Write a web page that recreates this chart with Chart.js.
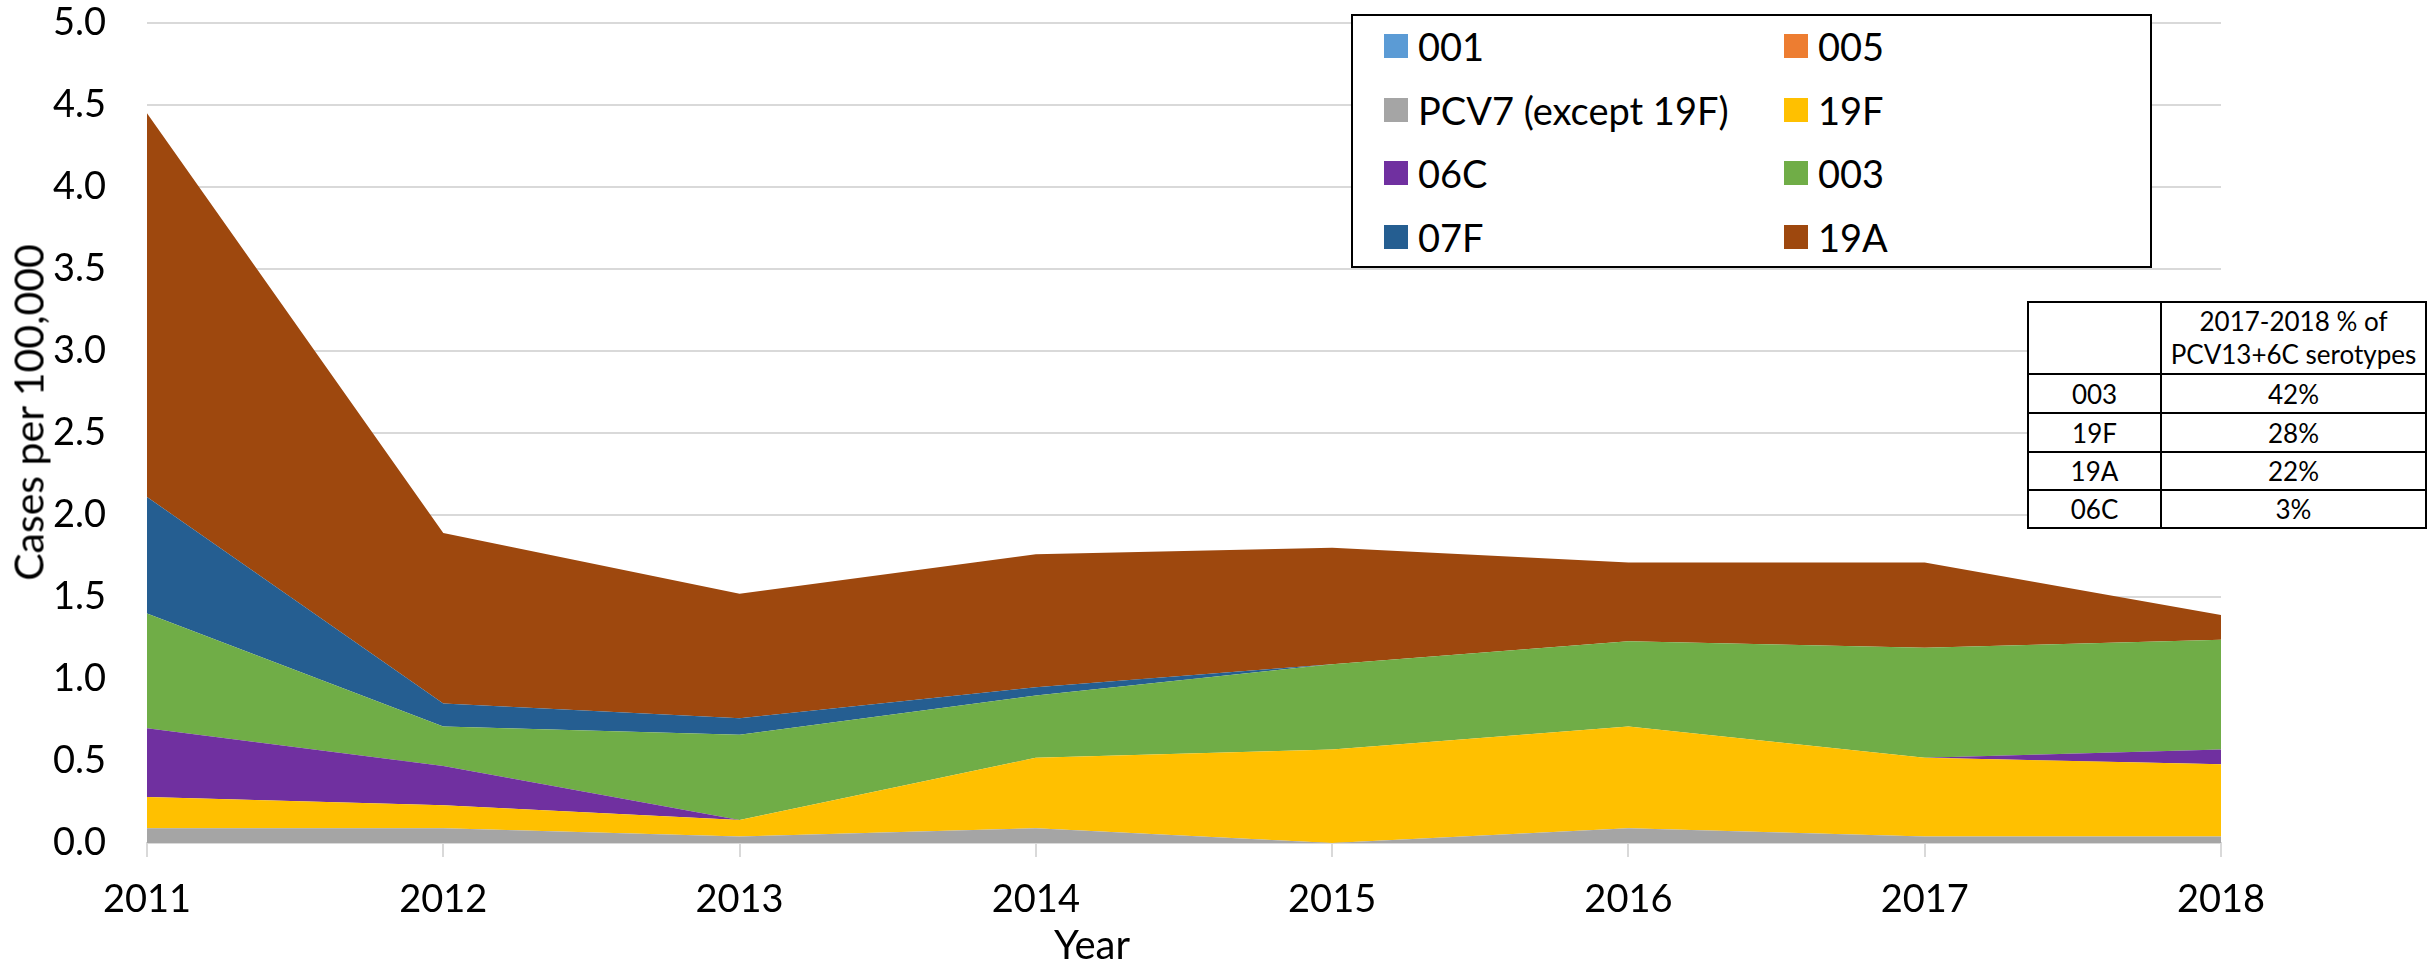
<!DOCTYPE html>
<html><head><meta charset="utf-8">
<script src="https://cdn.jsdelivr.net/npm/chart.js@4/dist/chart.umd.min.js"></script>
<style>
html,body{margin:0;padding:0;background:#fff;}
#wrap{position:relative;width:2430px;height:968px;overflow:hidden;}
#c{position:absolute;left:0;top:0;}
#legend{position:absolute;left:1351px;top:14px;width:801px;height:254px;box-sizing:border-box;border:2px solid #000;background:#fff;font-family:Lato,sans-serif;font-size:38px;color:#000;}
.item{position:absolute;height:24px;display:flex;align-items:center;white-space:nowrap;}
.sw{width:24px;height:24px;margin-right:10px;flex:none;}
.lt{line-height:24px;position:relative;top:0px;}
#tbl{position:absolute;left:2027px;top:301px;border-collapse:collapse;background:#fff;font-family:Lato,sans-serif;font-size:26px;color:#000;table-layout:fixed;}
#tbl td{border:2px solid #000;text-align:center;padding:0;vertical-align:middle;}
#xtitle{position:absolute;left:1000px;width:184px;top:922px;text-align:center;font-family:Lato,sans-serif;font-size:40px;line-height:44px;color:#000;}
#ytitle{position:absolute;left:-172px;top:388px;width:400px;height:49px;line-height:49px;text-align:center;font-family:Lato,sans-serif;font-size:41px;color:#000;transform:rotate(-90deg);transform-origin:50% 50%;white-space:nowrap;}
</style></head>
<body>
<div id="wrap">
<canvas id="c" width="2430" height="968"></canvas>
<div id="legend"></div>
<table id="tbl"></table>
<div id="xtitle"></div>
<div id="ytitle"></div>
</div>
<script>
// ---- data ----
const years = ['2011','2012','2013','2014','2015','2016','2017','2018'];
const seriesNames = ['001','005','PCV7 (except 19F)','19F','06C','003','07F','19A'];
const s001 = [0,0,0,0,0,0,0,0];
const s005 = [0,0,0,0,0,0,0,0];
const sPCV7 = [0.09,0.09,0.04,0.09,0.00,0.09,0.04,0.04];
const s19F = [0.19,0.14,0.10,0.43,0.57,0.62,0.48,0.44];
const s06C = [0.42,0.24,0.00,0.00,0.00,0.00,0.00,0.09];
const s003 = [0.70,0.24,0.52,0.38,0.52,0.52,0.67,0.67];
const s07F = [0.71,0.14,0.10,0.05,0.00,0.00,0.00,0.00];
const s19A = [2.34,1.04,0.76,0.81,0.71,0.48,0.52,0.15];
const yTickValues = [0,0.5,1,1.5,2,2.5,3,3.5,4,4.5,5];
const tableHeader = ['', '2017-2018 % of', 'PCV13+6C serotypes'];
const tableSerotypes = ['003','19F','19A','06C'];
const tablePercents = ['42%','28%','22%','3%'];
const yTitle = 'Cases per 100,000';
const xTitle = 'Year';

// ---- styles ----
const palette = ['#5B9BD5','#ED7D31','#A5A5A5','#FFC000','#7030A0','#70AD47','#255E91','#9E480E'];
const FONT = 'Lato';

const seriesValues = [s001,s005,sPCV7,s19F,s06C,s003,s07F,s19A];
const datasets = seriesValues.map((vals,i)=>({
  label: seriesNames[i],
  data: vals,
  backgroundColor: palette[i],
  borderColor: palette[i],
  borderWidth: 0,
  pointRadius: 0,
  pointHoverRadius: 0,
  tension: 0,
  fill: i === 0 ? 'origin' : '-1'
}));

new Chart(document.getElementById('c'), {
  type: 'line',
  data: { labels: years, datasets },
  options: {
    responsive: false,
    animation: false,
    events: [],
    layout: { padding: { top: 23, right: 209, left: 0, bottom: 0 } },
    plugins: { legend: { display: false }, tooltip: { enabled: false }, title: { display: false } },
    scales: {
      x: {
        type: 'category',
        offset: false,
        grid: { drawOnChartArea: false, drawTicks: true, tickLength: 14, color: '#D9D9D9', lineWidth: 2 },
        border: { display: true, color: '#D9D9D9', width: 2 },
        ticks: { font: { family: FONT, size: 38 }, color: '#000', padding: 20, maxRotation: 0, autoSkip: false },
        afterFit: s => { s.height = 125; }
      },
      y: {
        stacked: true,
        min: 0, max: 5,
        afterBuildTicks: s => { s.ticks = yTickValues.map(v => ({ value: v })); },
        grid: { color: '#D9D9D9', lineWidth: 2, drawTicks: false },
        border: { display: false },
        ticks: { font: { family: FONT, size: 38 }, color: '#000', padding: 41, callback: v => Number(v).toFixed(1) },
        title: { display: false, text: yTitle },
        afterFit: s => { s.width = 147; s.paddingTop = 0; s.paddingBottom = 0; }
      }
    }
  }
});

// legend
const lg = document.getElementById('legend');
seriesNames.forEach((name,i)=>{
  const col = i % 2, row = Math.floor(i/2);
  const it = document.createElement('div');
  it.className = 'item';
  it.style.left = (31 + col*400) + 'px';
  it.style.top = (18 + row*63.5) + 'px';
  it.innerHTML = '<span class="sw" style="background:'+palette[i]+'"></span><span class="lt">'+name+'</span>';
  lg.appendChild(it);
});

// table
const tbl = document.getElementById('tbl');
const colgroup = document.createElement('colgroup');
colgroup.innerHTML = '<col style="width:133px"><col style="width:265px">';
tbl.appendChild(colgroup);
const hr = tbl.insertRow();
hr.style.height = '72px';
hr.insertCell().textContent = tableHeader[0];
const hc = hr.insertCell();
hc.innerHTML = tableHeader[1] + '<br>' + tableHeader[2];
hc.style.lineHeight = '33px';
tableSerotypes.forEach((s,i)=>{
  const r = tbl.insertRow();
  r.style.height = (i < 2 ? 39 : 38) + 'px';
  r.insertCell().textContent = s;
  r.insertCell().textContent = tablePercents[i];
});

document.getElementById('xtitle').textContent = xTitle;
document.getElementById('ytitle').textContent = yTitle;
</script>
</body></html>
